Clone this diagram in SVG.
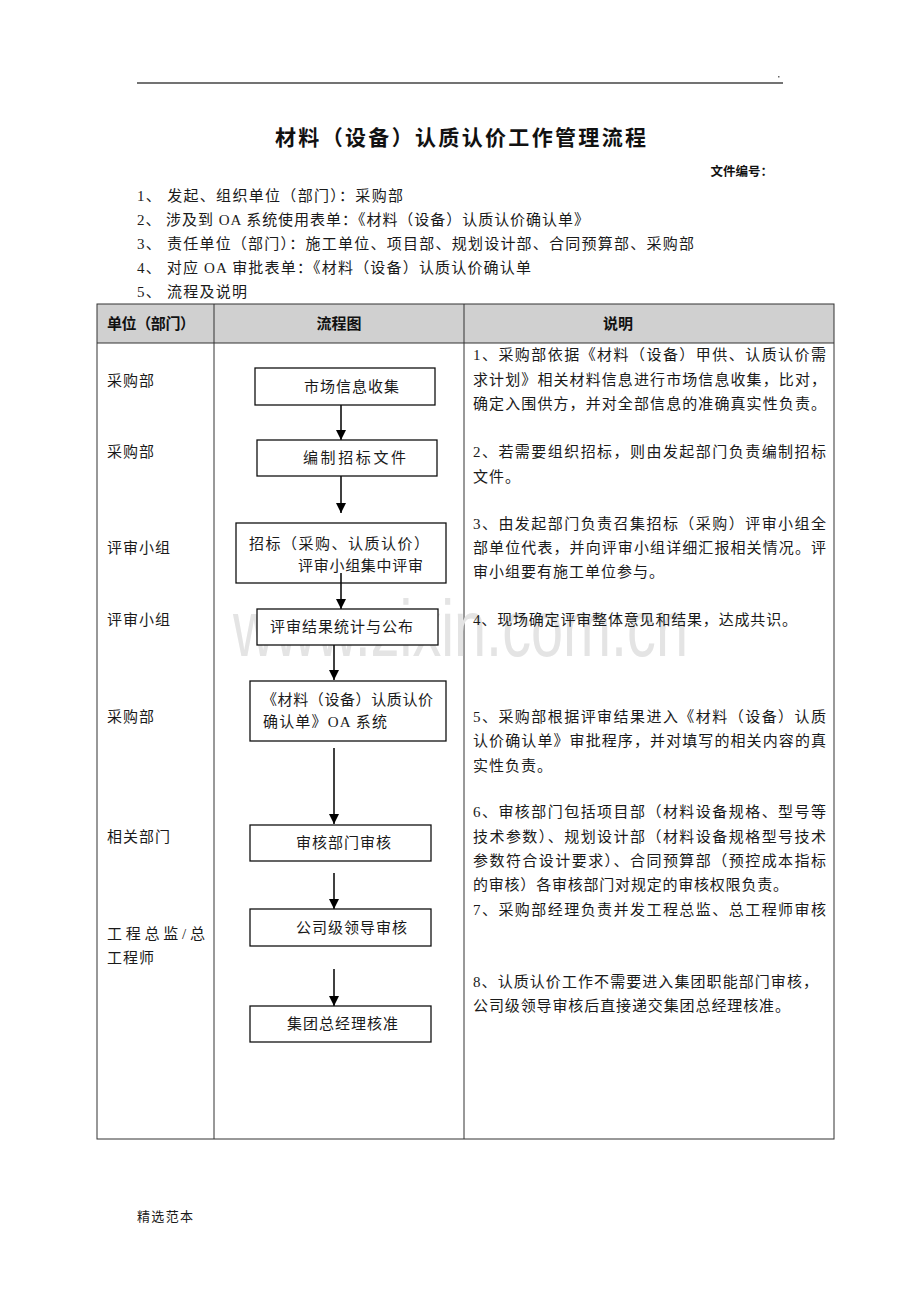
<svg xmlns="http://www.w3.org/2000/svg" width="920" height="1302" viewBox="0 0 920 1302">
<style>
.t{font-family:"Liberation Serif","Noto Sans CJK SC",serif;font-size:15px;fill:#1a1a1a}
.ls{letter-spacing:1px}
.h{font-family:"Noto Sans CJK SC","Liberation Sans",sans-serif;font-size:15px;font-weight:bold;fill:#111}
.box{fill:#fff;stroke:#111;stroke-width:1.3}
.grid{stroke:#333;stroke-width:1;fill:none}
.arr{stroke:#000;stroke-width:1.5;fill:none}
</style>
<defs>
<marker id="ah" markerUnits="userSpaceOnUse" markerWidth="10" markerHeight="11" refX="10" refY="5" orient="auto">
<path d="M0,0 L10,5 L0,10 z" fill="#000"/>
</marker>
</defs>
<rect width="920" height="1302" fill="#fff"/>

<g id="page-header">
<line x1="137" y1="83" x2="783" y2="83" stroke="#444" stroke-width="1.6"/>
<rect x="778" y="76" width="1.5" height="1.5" fill="#666"/>
<text x="275" y="145" font-family="Noto Sans CJK SC,sans-serif" font-size="21" font-weight="bold" fill="#111" textLength="371">材料（设备）认质认价工作管理流程</text>
<text x="773" y="176" text-anchor="end" font-family="Noto Sans CJK SC,sans-serif" font-size="12.5" font-weight="bold" fill="#111">文件编号：</text>
<text class="t" x="137" y="201" textLength="266">1、 发起、组织单位（部门）：采购部</text>
<text class="t" x="137" y="225" textLength="452">2、 涉及到 OA 系统使用表单：《材料（设备）认质认价确认单》</text>
<text class="t" x="137" y="249" textLength="557">3、 责任单位（部门）：施工单位、项目部、规划设计部、合同预算部、采购部</text>
<text class="t" x="137" y="273" textLength="394">4、 对应 OA 审批表单：《材料（设备）认质认价确认单</text>
<text class="t" x="137" y="297" textLength="110">5、 流程及说明</text>
</g>

<g id="table">
<rect x="97" y="304" width="737" height="39" fill="#d0d0d0"/>
<rect x="97" y="304" width="737" height="835" class="grid" stroke-width="1.2"/>
<line x1="97" y1="343" x2="834" y2="343" class="grid"/>
<line x1="214" y1="304" x2="214" y2="1139" class="grid"/>
<line x1="464" y1="304" x2="464" y2="1139" class="grid"/>
<text class="h" x="107" y="329" textLength="88">单位（部门）</text>
<text class="h" x="339" y="329" text-anchor="middle">流程图</text>
<text class="h" x="618" y="329" text-anchor="middle">说明</text>
</g>

<g id="watermark">
<text x="233" y="656" font-family="Liberation Sans,sans-serif" font-size="79" fill="#e4e4e4" textLength="455" lengthAdjust="spacingAndGlyphs">www.zixin.com.cn</text>
</g>

<g id="units">
<text class="t ls" x="107" y="386">采购部</text>
<text class="t ls" x="107" y="457">采购部</text>
<text class="t ls" x="107" y="553">评审小组</text>
<text class="t ls" x="107" y="625">评审小组</text>
<text class="t ls" x="107" y="722">采购部</text>
<text class="t ls" x="107" y="842">相关部门</text>
<text class="t" x="107" y="939" textLength="98">工程总监/总</text>
<text class="t ls" x="107" y="963">工程师</text>
</g>

<g id="connectors">
<line class="arr" x1="341" y1="404" x2="341" y2="440" marker-end="url(#ah)"/>
<line class="arr" x1="341" y1="476" x2="341" y2="513" marker-end="url(#ah)"/>
<line class="arr" x1="341" y1="573" x2="341" y2="609" marker-end="url(#ah)"/>
<line class="arr" x1="334" y1="645" x2="334" y2="680" marker-end="url(#ah)"/>
<line class="arr" x1="334" y1="748" x2="334" y2="824" marker-end="url(#ah)"/>
<line class="arr" x1="334" y1="873" x2="334" y2="909" marker-end="url(#ah)"/>
<line class="arr" x1="334" y1="969" x2="334" y2="1006" marker-end="url(#ah)"/>
</g>

<g id="n1"><rect class="box" x="255" y="368" width="180" height="37"/><text class="t ls" x="304" y="392">市场信息收集</text></g>
<g id="n2"><rect class="box" x="257" y="440" width="180" height="36"/><text class="t ls" x="303" y="463" textLength="104">编制招标文件</text></g>
<g id="n3"><rect class="box" x="236" y="523" width="210" height="60" fill="none" style="fill:none"/><text class="t" x="249" y="549" textLength="180">招标（采购、认质认价）</text><text class="t" x="298" y="571" textLength="125">评审小组集中评审</text></g>
<g id="n4"><rect class="box" x="257" y="609" width="181" height="36"/><text class="t ls" x="270" y="632">评审结果统计与公布</text></g>
<g id="n5"><rect class="box" x="250" y="681" width="196" height="60"/><text class="t" x="262" y="705" textLength="171">《材料（设备）认质认价</text><text class="t" x="263" y="727" textLength="124">确认单》OA 系统</text></g>
<g id="n6"><rect class="box" x="250" y="825" width="181" height="36"/><text class="t ls" x="296" y="848">审核部门审核</text></g>
<g id="n7"><rect class="box" x="250" y="909" width="181" height="37"/><text class="t ls" x="296" y="933">公司级领导审核</text></g>
<g id="n8"><rect class="box" x="250" y="1006" width="181" height="36"/><text class="t ls" x="287" y="1029">集团总经理核准</text></g>

<g id="notes">
<text class="t" x="473" y="360" textLength="353">1、采购部依据《材料（设备）甲供、认质认价需</text>
<text class="t" x="473" y="385" textLength="353">求计划》相关材料信息进行市场信息收集，比对，</text>
<text class="t" x="473" y="409" textLength="353">确定入围供方，并对全部信息的准确真实性负责。</text>
<text class="t" x="473" y="457" textLength="353">2、若需要组织招标，则由发起部门负责编制招标</text>
<text class="t ls" x="473" y="482">文件。</text>
<text class="t" x="473" y="529" textLength="353">3、由发起部门负责召集招标（采购）评审小组全</text>
<text class="t" x="473" y="553" textLength="353">部单位代表，并向评审小组详细汇报相关情况。评</text>
<text class="t ls" x="473" y="577">审小组要有施工单位参与。</text>
<text class="t" x="473" y="625" textLength="324">4、现场确定评审整体意见和结果，达成共识。</text>
<text class="t" x="473" y="722" textLength="353">5、采购部根据评审结果进入《材料（设备）认质</text>
<text class="t" x="473" y="746" textLength="353">认价确认单》审批程序，并对填写的相关内容的真</text>
<text class="t ls" x="473" y="771">实性负责。</text>
<text class="t" x="473" y="817" textLength="353">6、审核部门包括项目部（材料设备规格、型号等</text>
<text class="t" x="473" y="842" textLength="353">技术参数）、规划设计部（材料设备规格型号技术</text>
<text class="t" x="473" y="866" textLength="353">参数符合设计要求）、合同预算部（预控成本指标</text>
<text class="t" x="473" y="890" textLength="315">的审核）各审核部门对规定的审核权限负责。</text>
<text class="t" x="473" y="915" textLength="353">7、采购部经理负责并发工程总监、总工程师审核</text>
<text class="t" x="473" y="987" textLength="345">8、认质认价工作不需要进入集团职能部门审核，</text>
<text class="t" x="473" y="1011" textLength="317">公司级领导审核后直接递交集团总经理核准。</text>
</g>

<g id="footer">
<text class="t" x="137" y="1221" font-size="13" style="font-size:13px" textLength="56">精选范本</text>
</g>
</svg>
